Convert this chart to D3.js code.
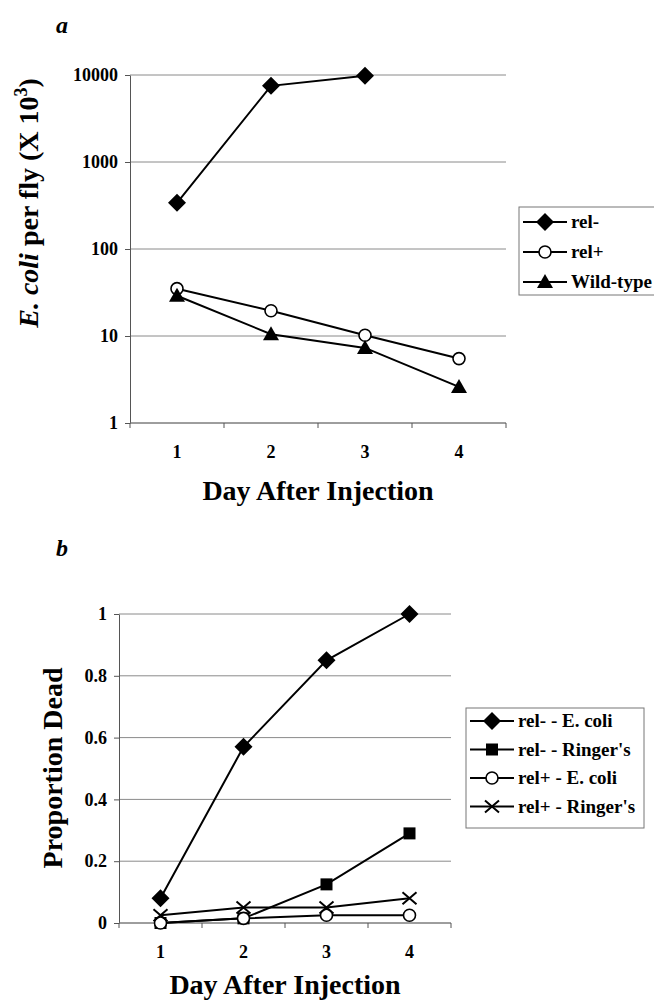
<!DOCTYPE html>
<html>
<head>
<meta charset="utf-8">
<script src="https://cdn.jsdelivr.net/npm/d3@7"></script>
<style>
  html, body { margin: 0; padding: 0; background: #fff; }
  svg { display: block; }
  svg text { font-family: "Liberation Serif", "Times New Roman", serif; }
</style>
</head>
<body>
<svg id="fig" width="654" height="1002" font-family="Liberation Serif, serif"></svg>
<script>
// ── Data ───────────────────────────────────────────────────────────────────
const days = ['1', '2', '3', '4'];

// panel a: E. coli per fly (x 10^3), log scale
const relMinusA = [340, 7500, 9800];
const relPlusA  = [35, 19.5, 10.2, 5.5];
const wildTypeA = [29, 10.5, 7.3, 2.6];
const yTicksA   = [1, 10, 100, 1000, 10000];

// panel b: proportion dead
const relMinusEcoli  = [0.08, 0.57, 0.85, 1.0];
const relMinusRinger = [0, 0.015, 0.125, 0.29];
const relPlusEcoli   = [0, 0.015, 0.025, 0.025];
const relPlusRinger  = [0.025, 0.05, 0.05, 0.08];
const yTicksB        = [0, 0.2, 0.4, 0.6, 0.8, 1];

const SERIF = 'Liberation Serif';
const svg = d3.select('#fig');

// ── Marker drawing ─────────────────────────────────────────────────────────
function marker(g, type, x, y) {
  if (type === 'diamond') {
    g.append('path').attr('d', 'M0,-9L9,0L0,9L-9,0Z')
      .attr('transform', `translate(${x},${y})`).attr('fill', '#000');
  } else if (type === 'square') {
    g.append('rect').attr('x', x - 6).attr('y', y - 6).attr('width', 12).attr('height', 12)
      .attr('fill', '#000');
  } else if (type === 'circle') {
    g.append('circle').attr('cx', x).attr('cy', y).attr('r', 6)
      .attr('fill', '#fff').attr('stroke', '#000').attr('stroke-width', 1.6);
  } else if (type === 'triangle') {
    g.append('path').attr('d', 'M0,-8L8,6L-8,6Z')
      .attr('transform', `translate(${x},${y})`).attr('fill', '#000');
  } else if (type === 'x') {
    g.append('path').attr('d', 'M-7,-6L7,6M-7,6L7,-6')
      .attr('transform', `translate(${x},${y})`)
      .attr('stroke', '#000').attr('stroke-width', 2).attr('fill', 'none');
  }
}

function label(g, x, y, size, txt) {
  return g.append('text').attr('x', x).attr('y', y)
    .attr('font-family', SERIF).attr('font-size', size).attr('font-weight', 'bold')
    .attr('fill', '#000').text(txt);
}

// ── Panel builder ──────────────────────────────────────────────────────────
function drawPanel(p) {
  const g = svg.append('g');
  const x = d3.scaleBand().domain(days).range([p.left, p.right]);
  const y = p.y;

  // gridlines
  g.selectAll('line.grid').data(p.ticks).join('line')
    .attr('x1', p.left).attr('x2', p.right)
    .attr('y1', d => y(d)).attr('y2', d => y(d))
    .attr('stroke', '#8a8a8a').attr('stroke-width', 1);

  // y axis
  const yAxis = d3.axisLeft(y).tickValues(p.ticks).tickSize(5).tickSizeOuter(0)
    .tickFormat(p.fmt);
  const ya = g.append('g').attr('transform', `translate(${p.left},0)`).call(yAxis)
    .attr('font-family', SERIF);
  ya.select('.domain').attr('stroke', '#555');
  ya.selectAll('.tick line').attr('stroke', '#555');
  ya.selectAll('.tick text')
    .attr('font-family', SERIF).attr('font-size', 18)
    .attr('font-weight', 'bold').attr('fill', '#000').attr('x', -12);

  // x axis: ticks between categories
  const base = y(p.ticks[0]);
  g.append('line').attr('x1', p.left).attr('x2', p.right).attr('y1', base).attr('y2', base)
    .attr('stroke', '#777');
  const bounds = days.map(d => x(d)).concat([p.right]);
  g.selectAll('line.xt').data(bounds).join('line')
    .attr('x1', d => d).attr('x2', d => d).attr('y1', base).attr('y2', base + 5)
    .attr('stroke', '#555');
  days.forEach(d => {
    label(g, x(d) + x.bandwidth() / 2, base + 35, 18, d).attr('text-anchor', 'middle');
  });

  // x title
  label(g, (p.left + p.right) / 2, p.xTitleY, 28, 'Day After Injection')
    .attr('text-anchor', 'middle');

  // series
  const cx = i => x(days[i]) + x.bandwidth() / 2;
  p.series.forEach(s => {
    const line = d3.line().x((d, i) => cx(i)).y(d => y(d));
    g.append('path').datum(s.values).attr('d', line)
      .attr('fill', 'none').attr('stroke', '#000').attr('stroke-width', 2);
  });
  p.series.forEach(s => {
    s.values.forEach((v, i) => marker(g, s.marker, cx(i), y(v)));
  });

  // legend
  const L = p.legend;
  g.append('rect').attr('x', L.x).attr('y', L.y).attr('width', L.w).attr('height', L.h)
    .attr('fill', '#fff').attr('stroke', '#777').attr('stroke-width', 1);
  p.series.forEach((s, i) => {
    const ly = L.y + L.pad + i * L.step;
    g.append('line').attr('x1', L.x + 4).attr('x2', L.x + 48).attr('y1', ly).attr('y2', ly)
      .attr('stroke', '#000').attr('stroke-width', 2);
    marker(g, s.marker, L.x + 26, ly);
    label(g, L.x + 52, ly + 6, 19, s.name);
  });

  return g;
}

// ── Panel a ────────────────────────────────────────────────────────────────
drawPanel({
  left: 130, right: 506,
  y: d3.scaleLog().domain([1, 10000]).range([423, 75]),
  ticks: yTicksA,
  fmt: d => String(d),
  xTitleY: 500,
  series: [
    { name: 'rel-', values: relMinusA, marker: 'diamond' },
    { name: 'rel+', values: relPlusA, marker: 'circle' },
    { name: 'Wild-type', values: wildTypeA, marker: 'triangle' },
  ],
  legend: { x: 519, y: 207, w: 150, h: 88, pad: 15, step: 30 },
});

label(svg, 56, 33, 24, 'a').attr('font-style', 'italic');

const yTitleA = svg.append('text')
  .attr('transform', 'translate(38,203) rotate(-90)')
  .attr('text-anchor', 'middle').attr('font-family', SERIF)
  .attr('font-size', 28).attr('font-weight', 'bold');
yTitleA.append('tspan').attr('font-style', 'italic').text('E. coli');
yTitleA.append('tspan').text(' per fly (X 10');
yTitleA.append('tspan').attr('font-size', 18).attr('dy', -11).text('3');
yTitleA.append('tspan').attr('dy', 11).text(')');

// ── Panel b ────────────────────────────────────────────────────────────────
drawPanel({
  left: 119, right: 451,
  y: d3.scaleLinear().domain([0, 1]).range([923, 614]),
  ticks: yTicksB,
  fmt: d => String(d),
  xTitleY: 994,
  series: [
    { name: 'rel- - E. coli', values: relMinusEcoli, marker: 'diamond' },
    { name: "rel- - Ringer's", values: relMinusRinger, marker: 'square' },
    { name: 'rel+ - E. coli', values: relPlusEcoli, marker: 'circle' },
    { name: "rel+ - Ringer's", values: relPlusRinger, marker: 'x' },
  ],
  legend: { x: 466, y: 708, w: 178, h: 120, pad: 13, step: 28.5 },
});

label(svg, 56, 556, 24, 'b').attr('font-style', 'italic');

label(svg, 0, 0, 28, 'Proportion Dead')
  .attr('transform', 'translate(62,768) rotate(-90)')
  .attr('text-anchor', 'middle');
</script>
</body>
</html>
